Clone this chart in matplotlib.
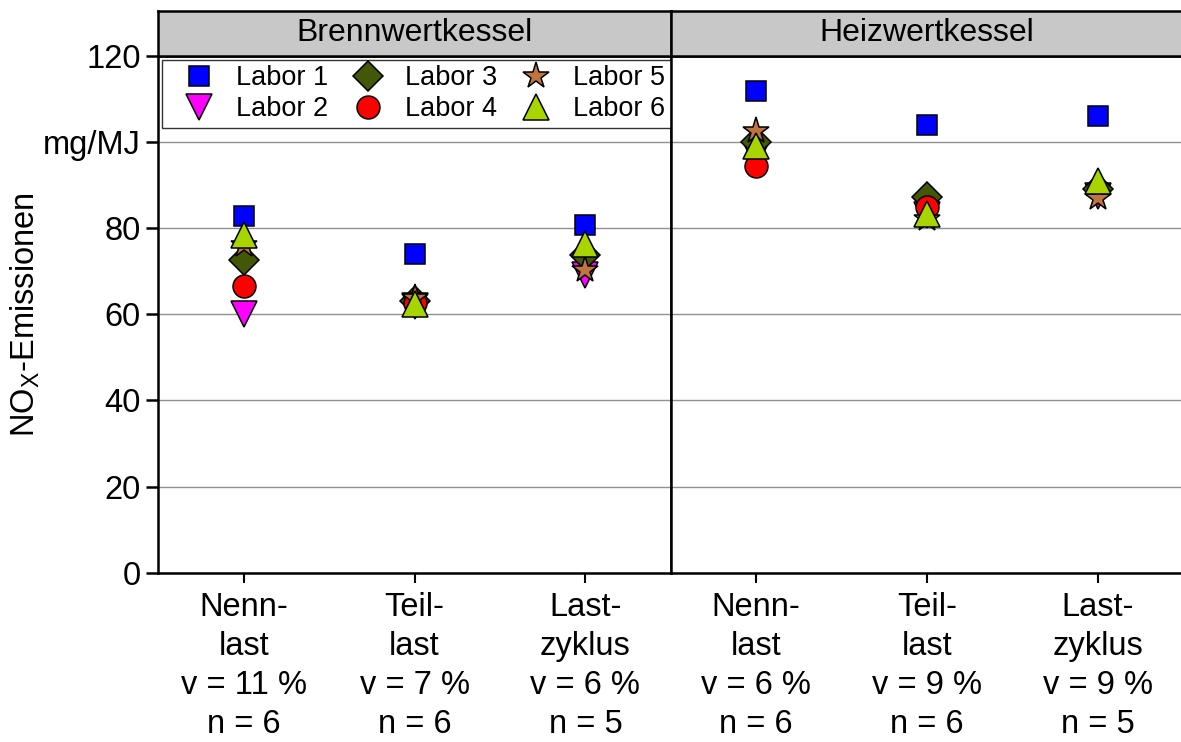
import numpy as np
import matplotlib.pyplot as plt

plt.rcParams['font.family'] = ['Liberation Sans', 'DejaVu Sans']
plt.rcParams['mathtext.fontset'] = 'custom'
plt.rcParams['mathtext.rm'] = 'Liberation Sans'
plt.rcParams['mathtext.it'] = 'Liberation Sans'

# data (mg/MJ)
panels = ['Brennwertkessel', 'Heizwertkessel']
cats_bw = ['Nenn-\nlast\nv = 11 %\nn = 6', 'Teil-\nlast\nv = 7 %\nn = 6', 'Last-\nzyklus\nv = 6 %\nn = 5']
cats_hw = ['Nenn-\nlast\nv = 6 %\nn = 6', 'Teil-\nlast\nv = 9 %\nn = 6', 'Last-\nzyklus\nv = 9 %\nn = 5']
labs = ['Labor 1', 'Labor 2', 'Labor 3', 'Labor 4', 'Labor 5', 'Labor 6']
bw = {
    'Labor 1': [82.9, 73.9, 80.6],
    'Labor 2': [60.0, 62.0, 69.0],
    'Labor 3': [72.7, 63.0, 73.7],
    'Labor 4': [66.5, 62.6, np.nan],
    'Labor 5': [76.0, 63.7, 70.2],
    'Labor 6': [78.3, 62.3, 76.4],
}
hw = {
    'Labor 1': [111.8, 103.9, 106.1],
    'Labor 2': [97.0, 83.0, 87.4],
    'Labor 3': [99.9, 87.2, 89.0],
    'Labor 4': [94.5, 84.9, np.nan],
    'Labor 5': [102.6, 82.2, 86.9],
    'Labor 6': [99.1, 83.2, 90.8],
}

markers = ['s', 'v', 'D', 'o', '*', '^']
sizes = [14.5, 19, 15, 16.5, 20, 19]
colors = ['#0000FF', '#FF00FF', '#435708', '#FF0000', '#C0743F', '#A8D400']
fs = 23.5

fig, axs = plt.subplots(1, 2, figsize=(11.81, 7.42), dpi=100, sharey=True)
fig.subplots_adjust(left=0.134, right=1.002, bottom=0.228, top=0.925, wspace=0)

for ax, data, cats, name in zip(axs, [bw, hw], [cats_bw, cats_hw], panels):
    x = np.arange(len(cats))
    for i, lab in enumerate(labs):
        ax.plot(x, data[lab], linestyle='none', marker=markers[i], ms=sizes[i],
                mfc=colors[i], mec='black', mew=1.1, label=lab, zorder=3 + i)
    ax.set_xlim(-0.5, 2.5)
    ax.set_xticks(x)
    ax.set_xticklabels(cats, fontsize=fs, linespacing=1.33)
    ax.tick_params(axis='x', direction='out', length=7, width=1.5, pad=7)
    ax.grid(axis='y', color='#909090', lw=1)
    ax.set_axisbelow(True)
    for s in ax.spines.values():
        s.set_linewidth(1.8)
    # header strip
    pos = ax.get_position()
    sax = fig.add_axes([pos.x0, pos.y1, pos.width, 0.06])
    sax.set_facecolor('#C8C8C8')
    sax.set_xticks([])
    sax.set_yticks([])
    for s in sax.spines.values():
        s.set_linewidth(1.8)
    sax.text(0.5, 0.5, name, ha='center', va='center', fontsize=23, transform=sax.transAxes)

axs[0].set_ylim(0, 120)
axs[0].set_yticks([0, 20, 40, 60, 80, 100, 120])
axs[0].set_yticklabels(['0', '20', '40', '60', '80', 'mg/MJ', '120'], fontsize=fs)
axs[0].tick_params(axis='y', direction='out', length=9, width=1.8)
axs[1].tick_params(axis='y', left=False)
axs[0].set_ylabel('NO$_\\mathrm{X}$-Emissionen', fontsize=fs, labelpad=1)

leg = axs[0].legend(loc='upper left', ncol=3, fontsize=19.5, frameon=True, fancybox=False,
                    edgecolor='black', borderaxespad=0.15, handletextpad=0.22, columnspacing=0.3,
                    borderpad=0.2, labelspacing=0.19, handlelength=2.3)
leg.get_frame().set_linewidth(1.0)

fig.savefig('out.png', dpi=100)
